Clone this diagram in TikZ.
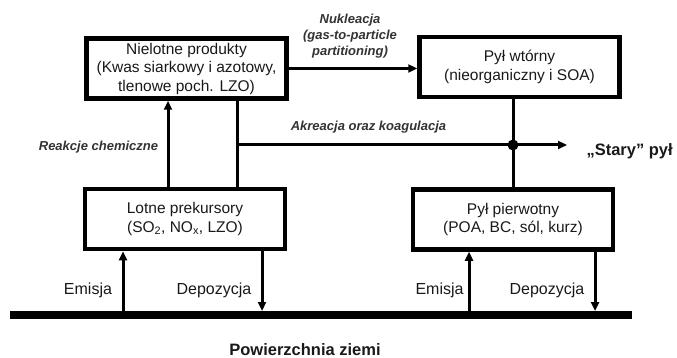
\documentclass[tikz,border=0pt]{standalone}
\usepackage{fontspec}
\setmainfont{Liberation Sans}
\usetikzlibrary{arrows.meta}
\tikzset{box/.style={draw, line width=4.5pt, minimum width=200pt, minimum height=60pt, inner sep=0pt, align=center, text=black!90, font=\fontsize{15.5}{18.5}\selectfont}}
\tikzset{lnk/.style={line width=3pt}}
\tikzset{arr/.style={line width=3pt, -{Triangle[length=9pt,width=8pt]}}}
\tikzset{lab/.style={text=black!90, font=\fontsize{16}{19}\selectfont}}
\tikzset{proc/.style={text=black!80, align=center, font=\fontsize{13}{16}\selectfont\bfseries\itshape}}

\begin{document}
\begin{tikzpicture}[x=1pt,y=-1pt]
\useasboundingbox (0,0) rectangle (677,358);
% pudelka
\node[box] (nielotne) at (186.5,68.5) {Nielotne produkty\\(Kwas siarkowy i azotowy,\\tlenowe poch. LZO)};
\node[box] (wtorny) at (519.5,67) {Py\l{} wt\'orny\\(nieorganiczny i SOA)};
\node[box] (lotne) at (185,219) {Lotne prekursory\\(SO\textsubscript{2}, NO\textsubscript{x}, LZO)};
\node[box] (pierwotny) at (513,219.5) {Py\l{} pierwotny\\(POA, BC, s\'ol, kurz)};
% ziemia
\coordinate (gl) at (10,315);
\coordinate (gr) at (632,315);
\draw[line width=8pt] (gl)--(gr);
\node[lab, font=\fontsize{16.5}{19}\selectfont\bfseries] (ziemia) at (305,349.5) {Powierzchnia ziemi};
% reakcje i nukleacja
\coordinate (rk) at ([xshift=-17pt]lotne.north);
\draw[arr] (rk)--(rk |- nielotne.south);
\node[proc] (reakcje) at (98.5,147) {Reakcje chemiczne};
\draw[arr] (nielotne.east)--(nielotne.east -| wtorny.west);
\node[proc] (nukleacja) at (350,36) {Nukleacja\\(gas-to-particle\\partitioning)};
% akreacja
\coordinate (ak) at ([xshift=51pt]nielotne.south);
\coordinate (mid) at (237.5,145);
\node[lab, anchor=west, font=\fontsize{16.5}{19}\selectfont\bfseries] (stary) at (583,151) {„Stary'' py\l{}};
\draw[lnk] (ak)--(ak |- lotne.north);
\draw[arr, shorten >=16pt] (ak |- mid)--(mid -| stary.west);
\draw[lnk] (wtorny.south -| pierwotny.north)--(pierwotny.north);
\fill (pierwotny.north |- mid) circle (5.5pt);
\node[proc] (akreacja) at (368.5,127) {Akreacja oraz koagulacja};
% emisja i depozycja
\coordinate (em1) at ([xshift=-62pt]lotne.south);
\coordinate (dep1) at ([xshift=77pt]lotne.south);
\coordinate (em2) at ([xshift=-44pt]pierwotny.south);
\coordinate (dep2) at ([xshift=82pt]pierwotny.south);
\draw[arr] (em1 |- gl)--(em1);
\draw[arr, shorten >=4pt] (dep1)--(dep1 |- gl);
\draw[arr] (em2 |- gl)--(em2);
\draw[arr, shorten >=4pt] (dep2)--(dep2 |- gl);
\node[lab] (emisja1) at (88,290) {Emisja};
\node[lab] (depozycja1) at (214,290) {Depozycja};
\node[lab] (emisja2) at (439.5,290) {Emisja};
\node[lab] (depozycja2) at (547,290) {Depozycja};
\end{tikzpicture}
\end{document}
